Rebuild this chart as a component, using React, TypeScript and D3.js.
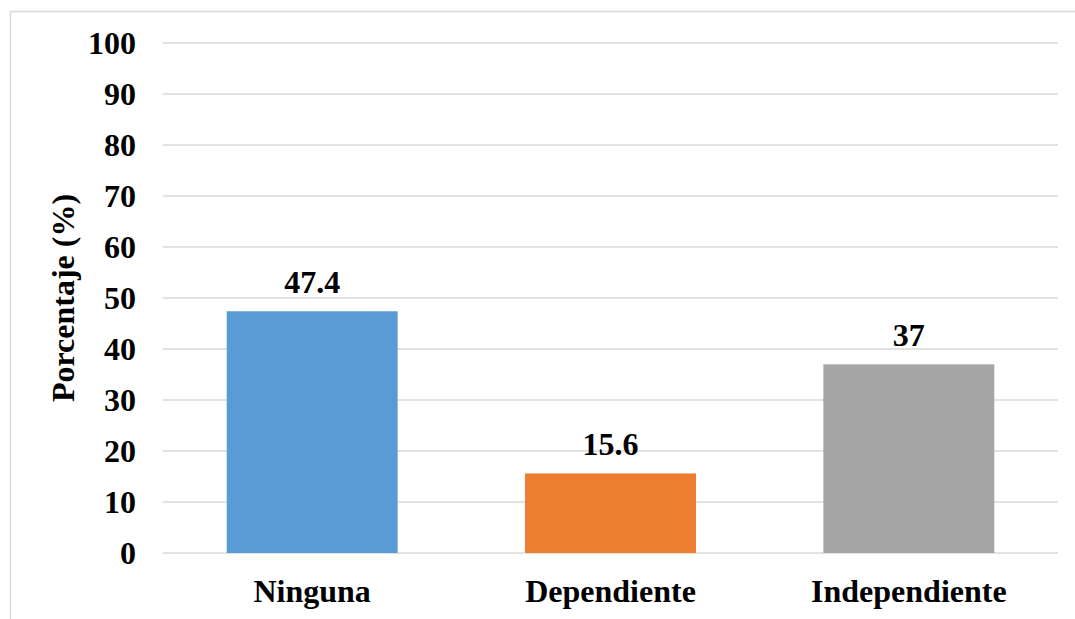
import React from "react";
import * as d3 from "d3";

const categories = ["Ninguna", "Dependiente", "Independiente"];
const values = [47.4, 15.6, 37];
const valueLabels = ["47.4", "15.6", "37"];
const colors = ["#5B9BD5", "#ED7D31", "#A5A5A5"];
const yTicks = [0, 10, 20, 30, 40, 50, 60, 70, 80, 90, 100];
const yTitle = "Porcentaje (%)";

const W = 1075;
const H = 619;
const plot = { left: 163, right: 1058, top: 43, bottom: 553 };
const font = "'Liberation Serif', 'Times New Roman', serif";

export default function App() {
  const x = d3
    .scaleBand<string>()
    .domain(categories)
    .range([plot.left, plot.right])
    .paddingInner(0.427)
    .paddingOuter(0.2135);
  const y = d3.scaleLinear().domain([0, 100]).range([plot.bottom, plot.top]);

  return (
    <svg
      width={W}
      height={H}
      style={{ position: "absolute", left: 0, top: 0, background: "#fff" }}
    >
      <rect x={10.5} y={11.5} width={1080} height={640} fill="#fff" stroke="#D9D9D9" strokeWidth={1.5} />
      {yTicks.map((t) => (
        <g key={t}>
          <line x1={plot.left} x2={plot.right} y1={y(t)} y2={y(t)} stroke="#D9D9D9" strokeWidth={1.5} />
          <text
            x={136}
            y={y(t) + 11}
            textAnchor="end"
            fontFamily={font}
            fontWeight="bold"
            fontSize={32}
            fill="#000"
          >
            {t}
          </text>
        </g>
      ))}
      {categories.map((c, i) => (
        <g key={c}>
          <rect
            x={x(c)}
            y={y(values[i])}
            width={x.bandwidth()}
            height={y(0) - y(values[i])}
            fill={colors[i]}
          />
          <text
            x={(x(c) as number) + x.bandwidth() / 2}
            y={y(values[i]) - 18}
            textAnchor="middle"
            fontFamily={font}
            fontWeight="bold"
            fontSize={32}
            fill="#000"
          >
            {valueLabels[i]}
          </text>
          <text
            x={(x(c) as number) + x.bandwidth() / 2}
            y={602}
            textAnchor="middle"
            fontFamily={font}
            fontWeight="bold"
            fontSize={32}
            fill="#000"
          >
            {c}
          </text>
        </g>
      ))}
      <text
        transform={`translate(74, ${(plot.top + plot.bottom) / 2}) rotate(-90)`}
        textAnchor="middle"
        fontFamily={font}
        fontWeight="bold"
        fontSize={32}
        fill="#000"
      >
        {yTitle}
      </text>
    </svg>
  );
}
